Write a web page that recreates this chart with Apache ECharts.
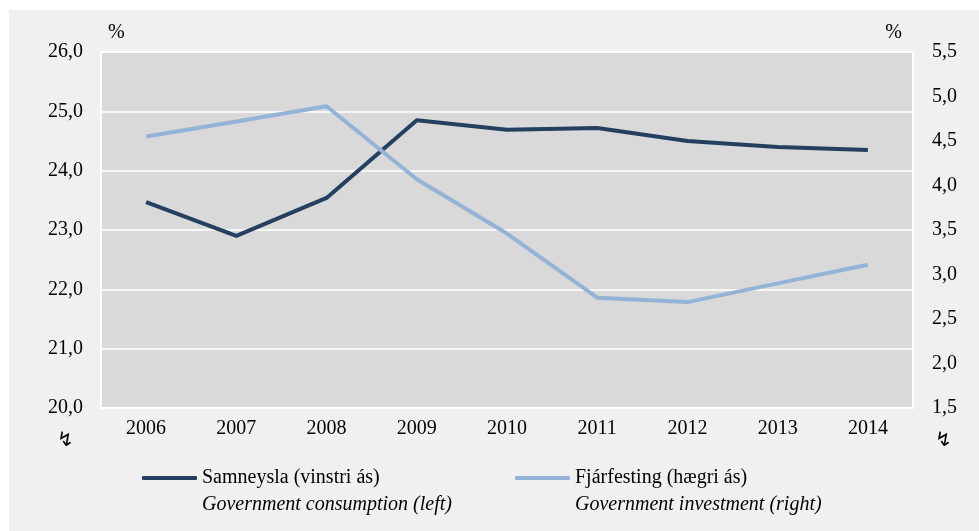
<!DOCTYPE html>
<html>
<head>
<meta charset="utf-8">
<script src="https://cdn.jsdelivr.net/npm/echarts@6/dist/echarts.min.js"></script>
<style>
  html, body { margin: 0; padding: 0; background: #ffffff; }
  #chart { width: 979px; height: 531px; }
</style>
</head>
<body>
<div id="chart"></div>
<script>
// gögn / data
const years = ['2006', '2007', '2008', '2009', '2010', '2011', '2012', '2013', '2014']
const consumption = [23.47, 22.90, 23.54, 24.85, 24.69, 24.72, 24.50, 24.40, 24.35]
const investment = [4.55, 4.72, 4.89, 4.07, 3.46, 2.74, 2.69, 2.90, 3.11]
const leftTicks = [20, 26, 1]
const rightTicks = [1.5, 5.5, 0.5]
const names = ['Samneysla (vinstri ás)', 'Fjárfesting (hægri ás)']
const namesEn = ['Government consumption (left)', 'Government investment (right)']

const font = '"Liberation Serif", "Times New Roman", serif'
const darkBlue = '#243f60'
const lightBlue = '#95b3d7'

const chart = echarts.init(document.getElementById('chart'))

const fmt = v => v.toFixed(1).replace('.', ',')

// tóm lína efst svo táknið lendi við fyrstu línu
const legendRich = {
  e: { fontFamily: font, fontSize: 20, lineHeight: 27 },
  a: { fontFamily: font, fontSize: 20, color: '#000', lineHeight: 27 },
  b: { fontFamily: font, fontSize: 20, fontStyle: 'italic', color: '#000', lineHeight: 27 }
}

const makeLegend = (i, left) => ({
  data: [names[i]],
  left: left, top: 436, itemWidth: 55, itemHeight: 4, itemGap: 4,
  icon: 'roundRect',
  formatter: () => '{e| }\n{a|' + names[i] + '}\n{b|' + namesEn[i] + '}',
  textStyle: { rich: legendRich }
})

chart.setOption({
  backgroundColor: '#ffffff',
  animation: false,
  graphic: [
    { type: 'rect', z: -10, shape: { x: 9, y: 10, width: 970, height: 521 }, style: { fill: '#f0f0f0' } },
    { type: 'text', left: 57, top: 431, style: { text: '↯', fontFamily: 'DejaVu Sans', fontSize: 20, fill: '#000' } },
    { type: 'text', left: 935, top: 431, style: { text: '↯', fontFamily: 'DejaVu Sans', fontSize: 20, fill: '#000' } }
  ],
  grid: {
    left: 101, top: 52, right: 66, bottom: 123,
    show: true, backgroundColor: '#d9d9d9', borderColor: '#ffffff', borderWidth: 2
  },
  legend: [makeLegend(0, 137), makeLegend(1, 510)],
  xAxis: {
    type: 'category',
    data: years,
    boundaryGap: true,
    axisLine: { show: false },
    axisTick: { show: false },
    axisLabel: { fontFamily: font, fontSize: 20, color: '#000', margin: 11 }
  },
  yAxis: [
    {
      type: 'value',
      min: leftTicks[0], max: leftTicks[1], interval: leftTicks[2],
      name: '%', nameLocation: 'end', nameGap: 9,
      nameTextStyle: { fontFamily: font, fontSize: 20, color: '#000', align: 'left', padding: [0, 0, 0, 7] },
      axisLine: { show: false },
      axisTick: { show: false },
      axisLabel: { fontFamily: font, fontSize: 20, color: '#000', margin: 18, formatter: fmt },
      splitLine: { lineStyle: { color: '#ffffff', width: 1.5 } }
    },
    {
      type: 'value',
      min: rightTicks[0], max: rightTicks[1], interval: rightTicks[2],
      name: '%', nameLocation: 'end', nameGap: 9,
      nameTextStyle: { fontFamily: font, fontSize: 20, color: '#000', align: 'right', padding: [0, 11, 0, 0] },
      axisLine: { show: false },
      axisTick: { show: false },
      axisLabel: { fontFamily: font, fontSize: 20, color: '#000', margin: 19, formatter: fmt },
      splitLine: { show: false }
    }
  ],
  series: [
    {
      name: names[0],
      type: 'line',
      yAxisIndex: 0,
      data: consumption,
      symbol: 'none',
      lineStyle: { color: darkBlue, width: 4 },
      itemStyle: { color: darkBlue }
    },
    {
      name: names[1],
      type: 'line',
      yAxisIndex: 1,
      data: investment,
      symbol: 'none',
      lineStyle: { color: lightBlue, width: 4 },
      itemStyle: { color: lightBlue }
    }
  ]
})
</script>
</body>
</html>
